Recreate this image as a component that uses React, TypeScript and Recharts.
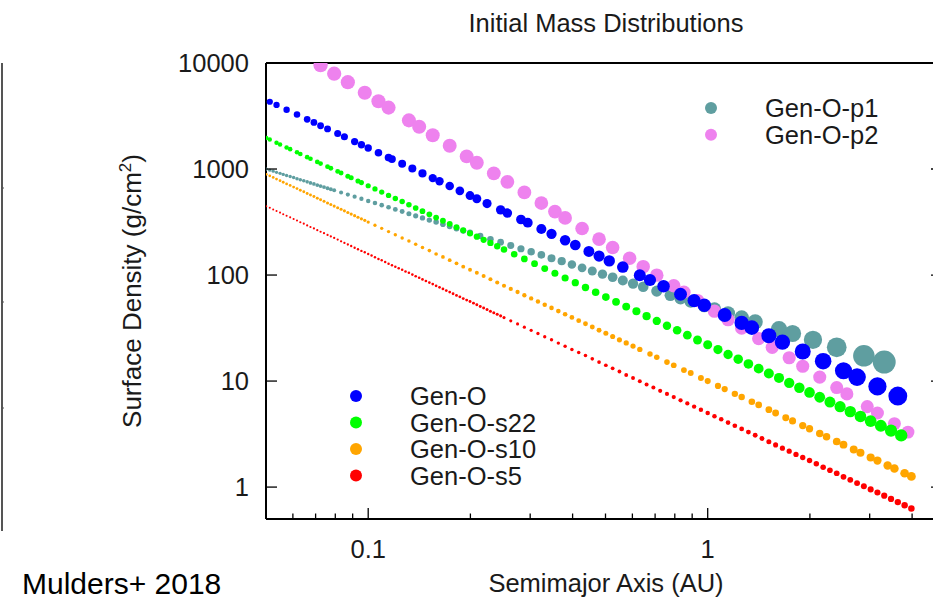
import React from 'react';
import { ScatterChart, Scatter, XAxis, YAxis } from 'recharts';

// Semimajor axis (AU) / surface density (g/cm^2), one pair per model

const genOp1_a = [
  0.0501, 0.0513, 0.0525, 0.0537, 0.055, 0.0562, 0.0575, 0.0589, 0.0603, 0.0617, 0.0631,
  0.0646, 0.0661, 0.0676, 0.0692, 0.0708, 0.0724, 0.0741, 0.0759, 0.0776, 0.0794,
  0.0832, 0.0871, 0.0912, 0.0955, 0.1, 0.1047, 0.1096, 0.1148, 0.1202, 0.1259, 0.1318,
  0.138, 0.1445, 0.1514, 0.1585, 0.166, 0.1738, 0.182, 0.1905, 0.1995,
  0.2138, 0.2291, 0.2455, 0.263, 0.2818, 0.302, 0.3236, 0.3467, 0.3715, 0.3981, 0.4266, 0.4571,
  0.4898, 0.5248, 0.5623, 0.6026, 0.6457, 0.7079, 0.7762, 0.8318, 0.8913, 0.9772, 1.047,
  1.148, 1.259, 1.38, 1.622, 1.778, 2.042, 2.399, 2.884, 3.311,
];
const genOp1_sigma = [
  998, 975, 953, 931, 910, 890, 869, 849, 830, 811, 793, 775, 757, 740, 723, 706, 690, 675,
  659, 644, 630,
  601, 574, 548, 524, 500, 478, 456, 436, 416, 397, 379, 362, 346, 330, 316, 301, 288, 275,
  262, 251,
  234, 218, 204, 190, 177, 166, 155, 144, 135, 126, 117, 109,
  102, 95.3, 89.0, 83.0, 77.5, 70.6, 64.4, 60.1, 56.1, 51.2, 47.8, 43.6, 39.7, 36.2, 30.8,
  28.1, 24.5, 20.8, 17.3, 15.1,
];

const genOp2_a = [
  0.0724, 0.0794, 0.0871, 0.0977, 0.1072, 0.1148, 0.1318, 0.1413, 0.1549, 0.1738, 0.195,
  0.2089, 0.2344, 0.257, 0.2884, 0.3236, 0.3548, 0.3802, 0.4266, 0.4786, 0.5248, 0.5888,
  0.6457, 0.7079, 0.7943, 0.8511, 0.9333, 1.047, 1.148, 1.259, 1.413, 1.549, 1.738, 1.905,
  2.138, 2.399, 2.57, 2.951, 3.162, 3.548, 3.89,
];
const genOp2_sigma = [
  9531, 7926, 6593, 5237, 4356, 3794, 2878, 2507, 2085, 1656, 1315, 1146, 910, 757, 601, 478,
  397, 346, 275, 218, 182, 144, 120, 99.8, 79.3, 69.0, 57.4, 45.6, 37.9, 31.6, 25.1, 20.8,
  16.6, 13.8, 10.9, 8.69, 7.57, 5.74, 5.0, 3.97, 3.3,
];

const genO_a = [
  0.0513, 0.0537, 0.0575, 0.0617, 0.0661, 0.0692, 0.0724, 0.0759, 0.0813, 0.0851, 0.0912,
  0.0955, 0.1, 0.1072, 0.1148, 0.1175, 0.1259, 0.1349, 0.1445, 0.1549, 0.1622, 0.1738,
  0.1862, 0.1995, 0.2089, 0.2239, 0.2455, 0.257, 0.2818, 0.2951, 0.3236, 0.3467, 0.3802,
  0.4074, 0.4467, 0.4786, 0.5129, 0.5623, 0.631, 0.6761, 0.7413, 0.8318, 0.912, 0.9772,
  1.122, 1.259, 1.349, 1.514, 1.66, 1.905, 2.188, 2.512, 2.754, 3.162, 3.631,
];
const genO_sigma = [
  4310, 4020, 3620, 3270, 2940, 2750, 2560, 2390, 2160, 2015, 1814, 1694, 1579, 1423, 1283,
  1243, 1120, 1010, 909, 821, 766, 691, 623, 562, 524, 472, 412, 384, 334, 312, 272, 245,
  213, 192, 167, 151, 136, 119, 99.6, 89.8, 78.4, 65.9, 57.4, 51.8, 42.0, 35.4, 31.9, 26.8,
  23.3, 19.0, 15.4, 12.5, 10.9, 8.9, 7.22,
];

const genOs22_a = [
  0.0501, 0.0513, 0.0537, 0.055, 0.0575, 0.0589, 0.0617, 0.0631, 0.0661, 0.0676, 0.0708,
  0.0724, 0.0759, 0.0776, 0.0813, 0.0832, 0.0871, 0.0891, 0.0933, 0.0955, 0.1,
  0.1047, 0.1096, 0.1148, 0.1202, 0.1259, 0.1318, 0.138, 0.1445, 0.1514, 0.1585, 0.166,
  0.1738, 0.182, 0.1905, 0.1995, 0.2089, 0.2188, 0.2291, 0.2399, 0.2512,
  0.2692, 0.2884, 0.309, 0.3311, 0.3548, 0.3802, 0.4074, 0.4365, 0.4677, 0.5012, 0.537,
  0.5754, 0.6166, 0.6607, 0.7079, 0.7586, 0.8128, 0.871, 0.9333, 1.0, 1.072, 1.148, 1.23,
  1.318, 1.413, 1.514, 1.622, 1.738, 1.862, 1.995, 2.138, 2.291, 2.455, 2.63, 2.818, 3.02,
  3.236, 3.467, 3.715,
];
const genOs22_sigma = [
  1962, 1896, 1769, 1707, 1593, 1540, 1439, 1386, 1294, 1250, 1166, 1126, 1052, 1016, 950,
  917, 856, 827, 772, 745, 695,
  649, 606, 564, 527, 493, 460, 429, 400, 374, 348, 325, 304, 283, 264, 247, 230, 215, 201,
  187, 174,
  157, 142, 128, 115, 104, 93.8, 84.7, 76.4, 68.8, 62.0, 55.9, 50.4, 45.5, 40.9, 36.9, 33.3,
  30.1, 27.1, 24.4, 22.0, 19.8, 17.8, 16.1, 14.5, 13.1, 11.8, 10.7, 9.61, 8.66, 7.81, 7.04,
  6.34, 5.73, 5.15, 4.64, 4.19, 3.78, 3.41, 3.07,
];

const genOs10_a = [
  0.0501, 0.0513, 0.0525, 0.0537, 0.055, 0.0562, 0.0575, 0.0589, 0.0603, 0.0617, 0.0631,
  0.0646, 0.0661, 0.0676, 0.0692, 0.0708, 0.0724, 0.0741, 0.0759, 0.0776, 0.0794, 0.0813,
  0.0832, 0.0851, 0.0871, 0.0891, 0.0912, 0.0933, 0.0955, 0.0977, 0.1,
  0.1047, 0.1096, 0.1148, 0.1202, 0.1259, 0.1318, 0.138, 0.1445, 0.1514, 0.1585, 0.166,
  0.1738, 0.182, 0.1905, 0.1995, 0.2089, 0.2188, 0.2291, 0.2399, 0.2512, 0.263, 0.2754,
  0.2884, 0.302, 0.3162, 0.3311, 0.3467, 0.3631, 0.3802, 0.3981, 0.4169, 0.4365, 0.4571,
  0.4786, 0.5012, 0.5248, 0.5495, 0.5754, 0.6026, 0.631,
  0.6761, 0.7079, 0.7586, 0.7943, 0.8511, 0.8913, 0.955, 1.0, 1.072, 1.122, 1.202, 1.259,
  1.349, 1.413, 1.514, 1.585, 1.698, 1.778, 1.905, 1.995, 2.138, 2.239, 2.399, 2.512, 2.692,
  2.818, 3.02, 3.162, 3.388, 3.548, 3.802, 3.981,
];
const genOs10_sigma = [
  892, 862, 832, 804, 776, 750, 724, 700, 676, 654, 630, 610, 588, 568, 550, 530, 512, 496,
  478, 462, 447, 432, 417, 403, 389, 376, 363, 351, 339, 328, 316,
  295, 276, 257, 240, 224, 209, 195, 182, 170, 158, 148, 138, 129, 120, 112, 105, 97.7, 91.2,
  85.1, 79.3, 74.0, 69.2, 64.5, 60.2, 56.3, 52.5, 49.0, 45.7, 42.7, 39.8, 37.1, 34.7, 32.3,
  30.2, 28.2, 26.3, 24.5, 22.9, 21.4, 19.9,
  18.0, 16.8, 15.1, 14.1, 12.7, 11.9, 10.7, 9.99, 9.0, 8.4, 7.58, 7.08, 6.38, 5.96, 5.37,
  5.0, 4.51, 4.21, 3.8, 3.55, 3.2, 2.99, 2.69, 2.51, 2.26, 2.11, 1.9, 1.78, 1.6, 1.5, 1.35,
  1.26,
];

const genOs5_a = [
  0.0501, 0.0513, 0.0525, 0.0537, 0.055, 0.0562, 0.0575, 0.0589, 0.0603, 0.0617, 0.0631,
  0.0646, 0.0661, 0.0676, 0.0692, 0.0708, 0.0724, 0.0741, 0.0759, 0.0776, 0.0794, 0.0813,
  0.0832, 0.0851, 0.0871, 0.0891, 0.0912, 0.0933, 0.0955, 0.0977,
  0.1, 0.1023, 0.1047, 0.1072, 0.1096, 0.1122, 0.1148, 0.1175, 0.1202, 0.123, 0.1259,
  0.1288, 0.1318, 0.1349, 0.138, 0.1413, 0.1445, 0.1479, 0.1514, 0.1549, 0.1585, 0.1622,
  0.166, 0.1698, 0.1738, 0.1778, 0.182, 0.1862, 0.1905, 0.195, 0.1995, 0.2042, 0.2089,
  0.2138, 0.2188, 0.2239, 0.2291, 0.2344, 0.2399, 0.2455, 0.2512,
  0.263, 0.2754, 0.2884, 0.302, 0.3162, 0.3311, 0.3467, 0.3631, 0.3802, 0.3981, 0.4169,
  0.4365, 0.4571, 0.4786, 0.5012, 0.5248, 0.5495, 0.5754, 0.6026, 0.631, 0.6607, 0.6918,
  0.7244, 0.7586, 0.7943, 0.8318, 0.871, 0.912, 0.955,
  1.0, 1.047, 1.096, 1.148, 1.202, 1.259, 1.318, 1.38, 1.445, 1.514, 1.585, 1.66, 1.738,
  1.82, 1.905, 1.995, 2.089, 2.188, 2.291, 2.399, 2.512, 2.63, 2.754, 2.884, 3.02, 3.162,
  3.311, 3.467, 3.631, 3.802, 3.981,
];
const genOs5_sigma = [
  446, 431, 416, 402, 388, 375, 362, 350, 338, 327, 315, 305, 294, 284, 275, 265, 256, 248,
  239, 231, 224, 216, 208, 201, 194, 188, 181, 175, 169, 164,
  158, 153, 147, 142, 138, 133, 128, 124, 120, 116, 112, 108, 105, 101, 97.5, 94.2, 90.9,
  87.9, 84.9, 82.1, 79.1, 76.6, 73.9, 71.3, 69.1, 66.6, 64.3, 62.3, 60.0, 58.0, 56.2, 54.3,
  52.4, 50.6, 48.8, 47.2, 45.6, 44.1, 42.6, 41.2, 39.7,
  37.0, 34.6, 32.2, 30.1, 28.1, 26.2, 24.5, 22.8, 21.3, 19.9, 18.6, 17.4, 16.2, 15.1, 14.1,
  13.2, 12.3, 11.4, 10.7, 9.96, 9.3, 8.7, 8.09, 7.56, 7.07, 6.59, 6.15, 5.74, 5.36, 4.99,
  4.66, 4.36, 4.06, 3.79, 3.54, 3.3, 3.08, 2.87, 2.68, 2.5, 2.33, 2.18, 2.03, 1.9, 1.78,
  1.66, 1.54, 1.44, 1.35, 1.25, 1.17, 1.09, 1.02, 0.951, 0.89, 0.83, 0.774, 0.722, 0.674,
  0.628,
];

// axis ticks
const xTicks = [0.06, 0.07, 0.08, 0.09, 0.1, 0.2, 0.3, 0.4, 0.5, 0.6, 0.7, 0.8, 0.9, 1, 2, 3, 4];
const xLabeled = [0.1, 1];
const yTicks = [1, 10, 100, 1000, 10000];

const FONT = '"Liberation Sans", Arial, Helvetica, sans-serif';
const TXT = '#1a1a1a';

const toPoints = (a: number[], s: number[]) => a.map((x, i) => ({ x, y: s[i] }));

// dot radius grows with distance like in the original plot
const makeDot = (color: string, r0: number, grow: number) => (props: any) => {
  const { cx, cy, payload } = props;
  if (cx == null || cy == null) return <g />;
  const r = r0 * Math.pow(payload.x / 0.05, grow);
  return <circle cx={cx} cy={cy} r={r} fill={color} />;
};

const series = [
  { name: 'Gen-O-p1', pts: toPoints(genOp1_a, genOp1_sigma), color: '#5f9ea0', r0: 1.6, grow: 0.47 },
  { name: 'Gen-O-p2', pts: toPoints(genOp2_a, genOp2_sigma), color: '#ee82ee', r0: 7.2, grow: -0.025 },
  { name: 'Gen-O', pts: toPoints(genO_a, genO_sigma), color: '#0000ff', r0: 3.1, grow: 0.26 },
  { name: 'Gen-O-s22', pts: toPoints(genOs22_a, genOs22_sigma), color: '#00ff00', r0: 2.2, grow: 0.24 },
  { name: 'Gen-O-s10', pts: toPoints(genOs10_a, genOs10_sigma), color: '#ffa500', r0: 1.35, grow: 0.27 },
  { name: 'Gen-O-s5', pts: toPoints(genOs5_a, genOs5_sigma), color: '#ff0000', r0: 1.0, grow: 0.27 },
];

const BottomTick = (props: any) => {
  const { x, y, payload } = props;
  const major = xLabeled.includes(payload.value);
  return (
    <g>
      <line x1={x} y1={y} x2={x} y2={y - (major ? 11 : 5.5)} stroke="#000" strokeWidth={1.3} />
      {major && (
        <text x={x} y={y + 39} textAnchor="middle" fontFamily={FONT} fontSize={25.5} fill={TXT}>
          {payload.value}
        </text>
      )}
    </g>
  );
};

const TopTick = (props: any) => {
  const { x, y, payload } = props;
  const major = xLabeled.includes(payload.value);
  return <line x1={x} y1={y} x2={x} y2={y + (major ? 11 : 5.5)} stroke="#000" strokeWidth={1.3} />;
};

const LeftTick = (props: any) => {
  const { x, y, payload } = props;
  return (
    <g>
      <line x1={x} y1={y} x2={x + 11} y2={y} stroke="#000" strokeWidth={1.3} />
      <text x={x - 17} y={y + 9} textAnchor="end" fontFamily={FONT} fontSize={25.5} fill={TXT}>
        {payload.value}
      </text>
    </g>
  );
};

const RightTick = (props: any) => {
  const { x, y } = props;
  return <line x1={x} y1={y} x2={x - 14} y2={y} stroke="#000" strokeWidth={1.3} />;
};

const axisLine = { stroke: '#000', strokeWidth: 2 };

export default function App() {
  const upperKey = series.slice(0, 2);
  const lowerKey = series.slice(2);
  return (
    <div
      style={{
        position: 'fixed',
        left: 0,
        top: 0,
        width: 933,
        height: 602,
        overflow: 'hidden',
        background: '#fff',
      }}
    >
      <div style={{ position: 'absolute', left: 0, top: 0 }}>
        <ScatterChart width={960} height={602} margin={{ top: 62, right: 14, bottom: 43, left: 206 }}>
          <XAxis
            xAxisId="bottom"
            dataKey="x"
            type="number"
            scale="log"
            domain={[0.05, 5]}
            allowDataOverflow
            ticks={xTicks}
            interval={0}
            tick={(p: any) => <BottomTick {...p} />}
            tickLine={false}
            tickSize={0}
            tickMargin={0}
            height={40}
            axisLine={axisLine}
          />
          <XAxis
            xAxisId="top"
            orientation="top"
            type="number"
            scale="log"
            domain={[0.05, 5]}
            allowDataOverflow
            ticks={xTicks}
            interval={0}
            tick={(p: any) => <TopTick {...p} />}
            tickLine={false}
            tickSize={0}
            tickMargin={0}
            height={1}
            axisLine={axisLine}
          />
          <YAxis
            yAxisId="left"
            dataKey="y"
            type="number"
            scale="log"
            domain={[0.5, 10000]}
            allowDataOverflow
            ticks={yTicks}
            interval={0}
            tick={(p: any) => <LeftTick {...p} />}
            tickLine={false}
            tickSize={0}
            tickMargin={0}
            width={60}
            axisLine={axisLine}
          />
          <YAxis
            yAxisId="right"
            orientation="right"
            type="number"
            scale="log"
            domain={[0.5, 10000]}
            allowDataOverflow
            ticks={yTicks}
            interval={0}
            tick={(p: any) => <RightTick {...p} />}
            tickLine={false}
            tickSize={0}
            tickMargin={0}
            width={1}
            axisLine={axisLine}
          />
          {series.map((s) => (
            <Scatter
              key={s.name}
              name={s.name}
              data={s.pts}
              xAxisId="bottom"
              yAxisId="left"
              fill={s.color}
              shape={makeDot(s.color, s.r0, s.grow)}
              isAnimationActive={false}
            />
          ))}
        </ScatterChart>
      </div>

      <svg
        width={933}
        height={602}
        style={{ position: 'absolute', left: 0, top: 0, pointerEvents: 'none' }}
        fontFamily={FONT}
      >
        {/* edge of the neighbouring panel */}
        <line x1={2} y1={63} x2={2} y2={531} stroke="#555" strokeWidth={2} />
        {[188, 302, 408].map((ty) => (
          <line key={ty} x1={1} y1={ty} x2={4} y2={ty} stroke="#555" strokeWidth={1} />
        ))}

        <text x={606} y={32} textAnchor="middle" fontSize={25.5} fill={TXT}>
          Initial Mass Distributions
        </text>
        <text x={606} y={592} textAnchor="middle" fontSize={25.5} fill={TXT}>
          Semimajor Axis (AU)
        </text>
        <text transform="translate(141,291) rotate(-90)" textAnchor="middle" fontSize={26} fill={TXT}>
          Surface Density (g/cm
          <tspan dy={-10} fontSize={17}>
            2
          </tspan>
          <tspan dy={10}>)</tspan>
        </text>

        {upperKey.map((s, i) => (
          <g key={s.name}>
            <circle cx={711} cy={108 + i * 26.7} r={6} fill={s.color} />
            <text x={765} y={117 + i * 26.7} fontSize={25.5} fill={TXT}>
              {s.name}
            </text>
          </g>
        ))}
        {lowerKey.map((s, i) => (
          <g key={s.name}>
            <circle cx={356} cy={396 + i * 26.5} r={6} fill={s.color} />
            <text x={410} y={405 + i * 26.5} fontSize={25.5} fill={TXT}>
              {s.name}
            </text>
          </g>
        ))}

        <text x={22} y={594} fontSize={30} fill="#000">
          Mulders+ 2018
        </text>
      </svg>
    </div>
  );
}
